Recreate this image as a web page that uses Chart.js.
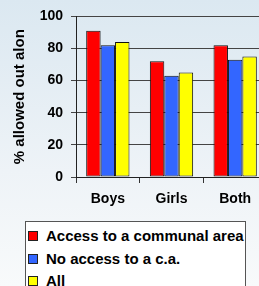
<!DOCTYPE html>
<html>
<head>
<meta charset="utf-8">
<script src="https://cdn.jsdelivr.net/npm/chart.js@4"></script>
<style>
  html, body { margin: 0; padding: 0; width: 259px; height: 286px; overflow: hidden; }
  body { background: linear-gradient(to bottom, #dbe8f1 0%, #eef3f7 60%, #f8fafb 100%); position: relative; font-family: "Liberation Sans", Arial, sans-serif; }
  #wrap { position: absolute; left: 0; top: 0; width: 290px; height: 286px; }
  #legend { position: absolute; left: 25px; top: 221px; width: 221px; height: 80px; background: #fff; border: 1px solid #555; box-sizing: border-box; }
  .item { position: absolute; left: 2px; height: 20px; line-height: 20px; font-weight: bold; font-size: 15px; color: #000; white-space: nowrap; }
  .sw { position: absolute; left: 0; top: 5px; width: 8px; height: 8px; border: 1px solid #222; }
  .lbl { position: absolute; left: 18px; top: 0; }
</style>
</head>
<body>
<div id="wrap"><canvas id="c" width="290" height="286"></canvas></div>
<div id="legend"></div>
<script>
const categories = ['Boys', 'Girls', 'Both'];
const accessValues = [91, 72, 82];
const noAccessValues = [82, 63, 73];
const allValues = [84, 65, 75];
const seriesLabels = ['Access to a communal area', 'No access to a c.a.', 'All'];
const seriesColors = ['#ff0000', '#3366ff', '#ffff00'];
const yTickValues = [0, 20, 40, 60, 80, 100];
const yTitle = '% allowed out alon';

const font = { family: '"Liberation Sans", Arial, sans-serif', weight: 'bold', size: 14 };
const seriesValues = [accessValues, noAccessValues, allValues];

const chart = new Chart(document.getElementById('c'), {
  type: 'bar',
  data: {
    labels: categories,
    datasets: seriesValues.map((v, i) => ({
      label: seriesLabels[i],
      data: v,
      backgroundColor: seriesColors[i],
      borderColor: '#111',
      borderWidth: 1,
      borderSkipped: false,
      barPercentage: 1,
      categoryPercentage: 0.68
    }))
  },
  options: {
    responsive: false,
    animation: false,
    devicePixelRatio: 1,
    layout: { padding: { top: 15, right: 23, left: 0, bottom: 0 } },
    plugins: { legend: { display: false }, tooltip: { enabled: false } },
    scales: {
      x: {
        offset: true,
        grid: { offset: true, drawOnChartArea: false, drawTicks: true, tickLength: 6, color: '#333' },
        border: { color: '#222', width: 1 },
        ticks: { font: font, color: '#000', padding: 8 },
        afterFit: (s) => { s.height = 109; }
      },
      y: {
        min: 0, max: 100,
        afterBuildTicks: (s) => { s.ticks = yTickValues.map(v => ({ value: v })); },
        grid: { color: '#444', tickLength: 5, drawTicks: true },
        border: { color: '#222', width: 1 },
        ticks: { font: font, color: '#000', padding: 8 },
        title: { display: true, text: yTitle, font: { family: font.family, weight: 'bold', size: 15 }, color: '#000', padding: { top: 11, bottom: 0 } },
        afterFit: (s) => { s.width = 76; }
      }
    }
  }
});

const legend = document.getElementById('legend');
chart.data.datasets.forEach((ds, i) => {
  const it = document.createElement('div');
  it.className = 'item';
  it.style.top = (4 + i * 22.5) + 'px';
  const sw = document.createElement('span');
  sw.className = 'sw';
  sw.style.background = ds.backgroundColor;
  const lb = document.createElement('span');
  lb.className = 'lbl';
  lb.textContent = ds.label;
  it.appendChild(sw); it.appendChild(lb);
  legend.appendChild(it);
});
</script>
</body>
</html>
